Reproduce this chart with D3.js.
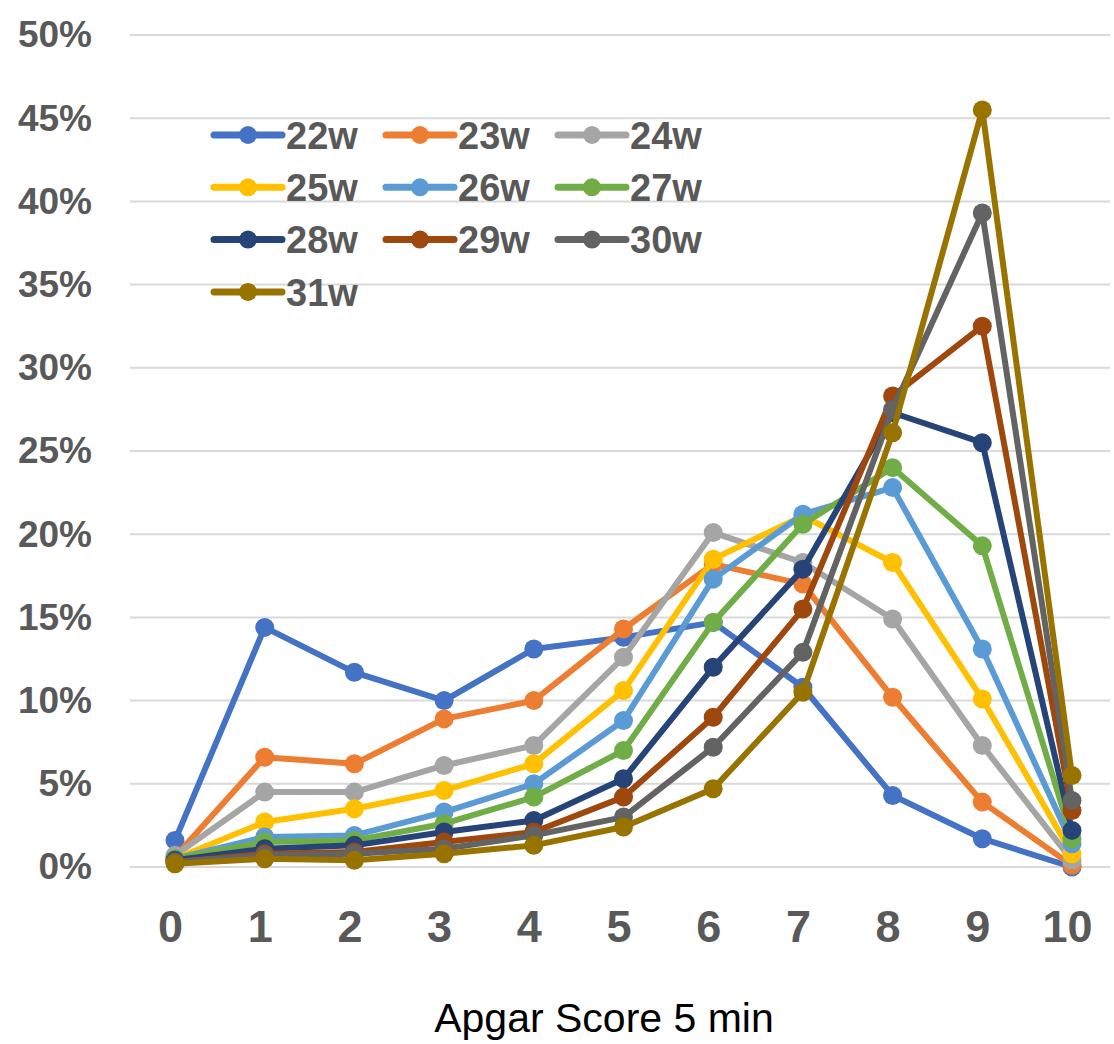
<!DOCTYPE html>
<html>
<head>
<meta charset="utf-8">
<script src="https://cdn.jsdelivr.net/npm/d3@7"></script>
<style>
  html, body { margin: 0; padding: 0; background: #fff; }
  svg { display: block; }
</style>
</head>
<body>
<svg id="chart" width="1114" height="1044"></svg>
<script>
// Apgar score (5 min) distribution by gestational week, in percent
const scores = [0, 1, 2, 3, 4, 5, 6, 7, 8, 9, 10];
const weeks = ["22w", "23w", "24w", "25w", "26w", "27w", "28w", "29w", "30w", "31w"];
const w22 = [1.6, 14.4, 11.7, 10.0, 13.1, 13.8, 14.7, 10.8, 4.3, 1.7, 0.0];
const w23 = [0.6, 6.6, 6.2, 8.9, 10.0, 14.3, 18.2, 17.0, 10.2, 3.9, 0.1];
const w24 = [0.7, 4.5, 4.5, 6.1, 7.3, 12.6, 20.1, 18.3, 14.9, 7.3, 0.4];
const w25 = [0.5, 2.7, 3.5, 4.6, 6.2, 10.6, 18.5, 21.1, 18.3, 10.1, 0.8];
const w26 = [0.5, 1.8, 1.9, 3.3, 5.0, 8.8, 17.3, 21.2, 22.8, 13.1, 1.4];
const w27 = [0.5, 1.5, 1.6, 2.6, 4.2, 7.0, 14.7, 20.6, 24.0, 19.3, 1.7];
const w28 = [0.4, 1.1, 1.3, 2.1, 2.8, 5.3, 12.0, 17.9, 27.3, 25.5, 2.2];
const w29 = [0.3, 0.8, 0.9, 1.5, 2.1, 4.2, 9.0, 15.5, 28.3, 32.5, 3.4];
const w30 = [0.3, 0.7, 0.8, 1.1, 1.9, 3.0, 7.2, 12.9, 27.5, 39.3, 4.0];
const w31 = [0.2, 0.5, 0.4, 0.8, 1.3, 2.4, 4.7, 10.5, 26.1, 45.5, 5.5];
const yTicks = [0, 5, 10, 15, 20, 25, 30, 35, 40, 45, 50];
const xTickLabels = ["0", "1", "2", "3", "4", "5", "6", "7", "8", "9", "10"];
const xTitle = "Apgar Score 5 min";
const colors = ["#4472C4", "#ED7D31", "#A5A5A5", "#FFC000", "#5B9BD5",
                "#70AD47", "#264478", "#9E480E", "#636363", "#997300"];

const seriesValues = [w22, w23, w24, w25, w26, w27, w28, w29, w30, w31];
const series = weeks.map((name, i) => ({
  name, color: colors[i],
  points: scores.map((s, j) => ({ x: s, y: seriesValues[i][j] }))
}));

const svg = d3.select("#chart");
const textColor = "#595959";

const x = d3.scaleLinear().domain([0, 10]).range([175, 1072]);
const y = d3.scaleLinear().domain([0, 50]).range([867, 35]);

// horizontal gridlines
svg.append("g")
  .selectAll("line")
  .data(yTicks)
  .join("line")
  .attr("x1", 130).attr("x2", 1110)
  .attr("y1", d => y(d)).attr("y2", d => y(d))
  .attr("stroke", "#D9D9D9")
  .attr("stroke-width", 2);

// y axis labels
const yAxis = d3.axisLeft(y)
  .tickValues(yTicks)
  .tickFormat(d => d + "%")
  .tickSize(0)
  .tickPadding(0);
const gy = svg.append("g").attr("transform", "translate(92,0)").call(yAxis);
gy.select(".domain").remove();
gy.selectAll("text")
  .attr("fill", textColor)
  .style("font-family", "'Liberation Sans', Arial, sans-serif")
  .style("font-weight", "bold")
  .style("font-size", "37px");

// x axis labels
const xAxis = d3.axisBottom(x)
  .tickValues(scores)
  .tickFormat((d, i) => xTickLabels[i])
  .tickSize(0)
  .tickPadding(0);
const gx = svg.append("g").attr("transform", "translate(-5,910)").call(xAxis);
gx.select(".domain").remove();
gx.selectAll("text")
  .attr("fill", textColor)
  .style("font-family", "'Liberation Sans', Arial, sans-serif")
  .style("font-weight", "bold")
  .style("font-size", "45px");

// axis title
svg.append("text")
  .attr("x", 604).attr("y", 1032)
  .attr("text-anchor", "middle")
  .attr("fill", "#000")
  .style("font-family", "'Liberation Sans', Arial, sans-serif")
  .style("font-size", "41px")
  .text(xTitle);

// lines and markers
const line = d3.line().x(d => x(d.x)).y(d => y(d.y));
const gSeries = svg.append("g")
  .selectAll("g")
  .data(series)
  .join("g");

gSeries.append("path")
  .attr("d", d => line(d.points))
  .attr("fill", "none")
  .attr("stroke", d => d.color)
  .attr("stroke-width", 6)
  .attr("stroke-linejoin", "round")
  .attr("stroke-linecap", "round");

gSeries.selectAll("circle")
  .data(d => d.points.map(p => ({ ...p, color: d.color })))
  .join("circle")
  .attr("cx", d => x(d.x))
  .attr("cy", d => y(d.y))
  .attr("r", 9.5)
  .attr("fill", d => d.color);

// legend: three columns
const legend = svg.append("g")
  .selectAll("g")
  .data(series)
  .join("g")
  .attr("transform", (d, i) => `translate(${214 + (i % 3) * 172},${135 + Math.floor(i / 3) * 52.3})`);

legend.append("line")
  .attr("x1", 0).attr("x2", 68)
  .attr("y1", 0).attr("y2", 0)
  .attr("stroke", d => d.color)
  .attr("stroke-width", 7)
  .attr("stroke-linecap", "round");
legend.append("circle")
  .attr("cx", 34).attr("cy", 0).attr("r", 9)
  .attr("fill", d => d.color);
legend.append("text")
  .attr("x", 72).attr("y", 0)
  .attr("dy", "0.36em")
  .attr("fill", textColor)
  .style("font-family", "'Liberation Sans', Arial, sans-serif")
  .style("font-weight", "bold")
  .style("font-size", "38px")
  .text(d => d.name);
</script>
</body>
</html>
